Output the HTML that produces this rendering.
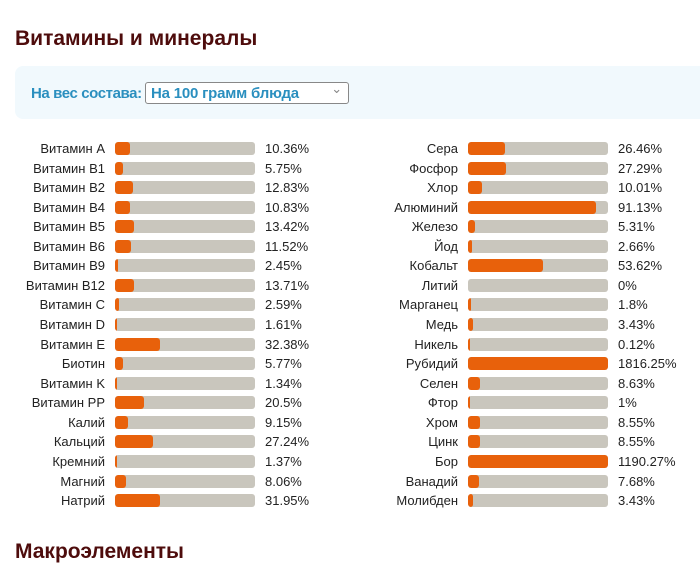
<!DOCTYPE html>
<html><head><meta charset="utf-8"><style>
body{margin:0;width:700px;height:547px;overflow:hidden;background:#fff;font-family:"Liberation Sans",sans-serif;position:relative}
h1{position:absolute;left:15px;top:27px;margin:0;font-size:21px;font-weight:bold;color:#4e0c0c}
.panel{position:absolute;left:15px;top:66px;width:700px;height:53px;background:#f1f9fd;border-radius:8px}
.lbl{position:absolute;left:31px;top:85px;font-size:15px;color:#2a8fbf;font-weight:bold;letter-spacing:-0.4px}
.sel{position:absolute;left:145px;top:82px;width:204px;height:22px;border:1px solid #888;border-radius:3px;background:#fff;font-size:15px;font-weight:bold;color:#2a8fbf;box-sizing:border-box;padding:2px 0 0 5px;letter-spacing:-0.2px}
.sel:after{content:"⌄";position:absolute;right:6px;top:-2px;font-size:13px;color:#888;font-weight:normal}
.row{position:absolute;height:20px;font-size:13px;color:#222}
.row .n{position:absolute;right:0;width:120px;text-align:right;top:0}
.bar{position:absolute;width:140px;height:13px;background:#c9c6bd;border-radius:3px;top:2px;overflow:hidden}
.bar i{display:block;height:100%;background:#e8610b;border-radius:3px}
.v{position:absolute;top:0}
.h2{position:absolute;left:15px;top:540px;font-size:21px;font-weight:bold;color:#4e0c0c}
</style></head><body>
<h1>Витамины и минералы</h1>
<div class="panel"></div>
<div class="lbl">На вес состава:</div>
<div class="sel">На 100 грамм блюда</div>
<div id="c"></div>
<div class="h2">Макроэлементы</div>
<script>
var L=[["Витамин A",10.36],["Витамин B1",5.75],["Витамин B2",12.83],["Витамин B4",10.83],["Витамин B5",13.42],["Витамин B6",11.52],["Витамин B9",2.45],["Витамин B12",13.71],["Витамин C",2.59],["Витамин D",1.61],["Витамин E",32.38],["Биотин",5.77],["Витамин K",1.34],["Витамин PP",20.5],["Калий",9.15],["Кальций",27.24],["Кремний",1.37],["Магний",8.06],["Натрий",31.95]];
var R=[["Сера",26.46],["Фосфор",27.29],["Хлор",10.01],["Алюминий",91.13],["Железо",5.31],["Йод",2.66],["Кобальт",53.62],["Литий",0],["Марганец",1.8],["Медь",3.43],["Никель",0.12],["Рубидий",1816.25],["Селен",8.63],["Фтор",1],["Хром",8.55],["Цинк",8.55],["Бор",1190.27],["Ванадий",7.68],["Молибден",3.43]];
var h="";
function col(a,x){a.forEach(function(d,i){var y=141+i*19.56;var w=d[1]<=0?0:Math.max(2,Math.min(140,d[1]*1.4));
h+='<div class="row" style="left:'+(x-120)+'px;top:'+y+'px;width:120px"><span class="n">'+d[0]+'</span></div>';
h+='<div class="bar" style="left:'+(x+10)+'px;top:'+(y+1)+'px"><i style="width:'+w+'px"></i></div>';
h+='<div class="row v" style="left:'+(x+160)+'px;top:'+y+'px">'+d[1]+'%</div>';});}
col(L,105);col(R,458);
document.getElementById("c").innerHTML=h;
</script>
</body></html>
